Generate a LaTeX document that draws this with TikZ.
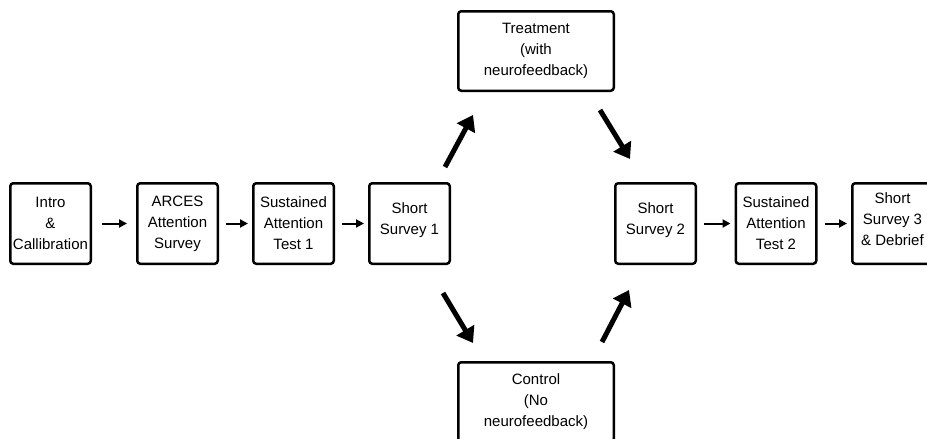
\documentclass[tikz,border=0pt]{standalone}
\usepackage{fontspec}
\setmainfont{Liberation Sans}
\usetikzlibrary{arrows.meta}

\tikzstyle{block} = [rectangle, draw, line width=2.5pt, rounded corners=3pt, align=center, minimum width=80.5pt, minimum height=80.5pt, inner sep=1pt, font=\fontsize{15}{21}\selectfont]
\tikzstyle{lifted} = [text depth=9.5pt]
\tikzstyle{wide} = [block, minimum width=155.5pt, minimum height=79.5pt]
\tikzstyle{flow} = [line width=2pt, -{Triangle[length=8pt, width=8pt]}, shorten <=7pt, shorten >=4pt]
\tikzstyle{branch} = [line width=5pt, -{Triangle[length=15pt, width=20pt]}]

\begin{document}
\begin{tikzpicture}[x=1pt, y=-1pt]
        \useasboundingbox (0,0) rectangle (927,439);
        % Main row
        \node (intro) at (50.5,223.5) [block] {Intro\\\&\\Callibration};
        \node (arces) at (177.5,223.5) [block] {ARCES\\Attention\\Survey};
        \node (sat1) at (293.5,223.5) [block] {Sustained\\Attention\\Test 1};
        \node (survey1) at (409.5,223.5) [block, lifted] {Short\\Survey 1};
        \node (survey2) at (655.5,223.5) [block, lifted] {Short\\Survey 2};
        \node (sat2) at (776,223.5) [block] {Sustained\\Attention\\Test 2};
        \node (survey3) at (892.5,223.5) [block, lifted] {Short\\Survey 3\\\& Debrief};
        % The two groups
        \node (treatment) at (536,51) [wide] {Treatment\\(with\\neurofeedback)};
        \node (control) at (536,402) [wide] {Control\\(No\\neurofeedback)};
        % Ends of the split arrows
        \coordinate (up1) at (445,167);
        \coordinate (up1 tip) at (473,115);
        \coordinate (down1) at (600,110);
        \coordinate (down1 tip) at (630,159);
        \coordinate (down2) at (443,293);
        \coordinate (down2 tip) at (473,343);
        \coordinate (up2) at (602,342);
        \coordinate (up2 tip) at (629,290);

        \draw[flow, shorten <=10pt, shorten >=9pt] (intro) -- (arces);
        \draw[flow] (arces) -- (sat1);
        \draw[flow] (sat1) -- (survey1);
        \draw[flow] (survey2) -- (sat2);
        \draw[flow] (sat2) -- (survey3);

        \draw[branch] (up1) -- (up1 tip);
        \draw[branch] (down1) -- (down1 tip);
        \draw[branch] (down2) -- (down2 tip);
        \draw[branch] (up2) -- (up2 tip);
    \end{tikzpicture}
\end{document}
